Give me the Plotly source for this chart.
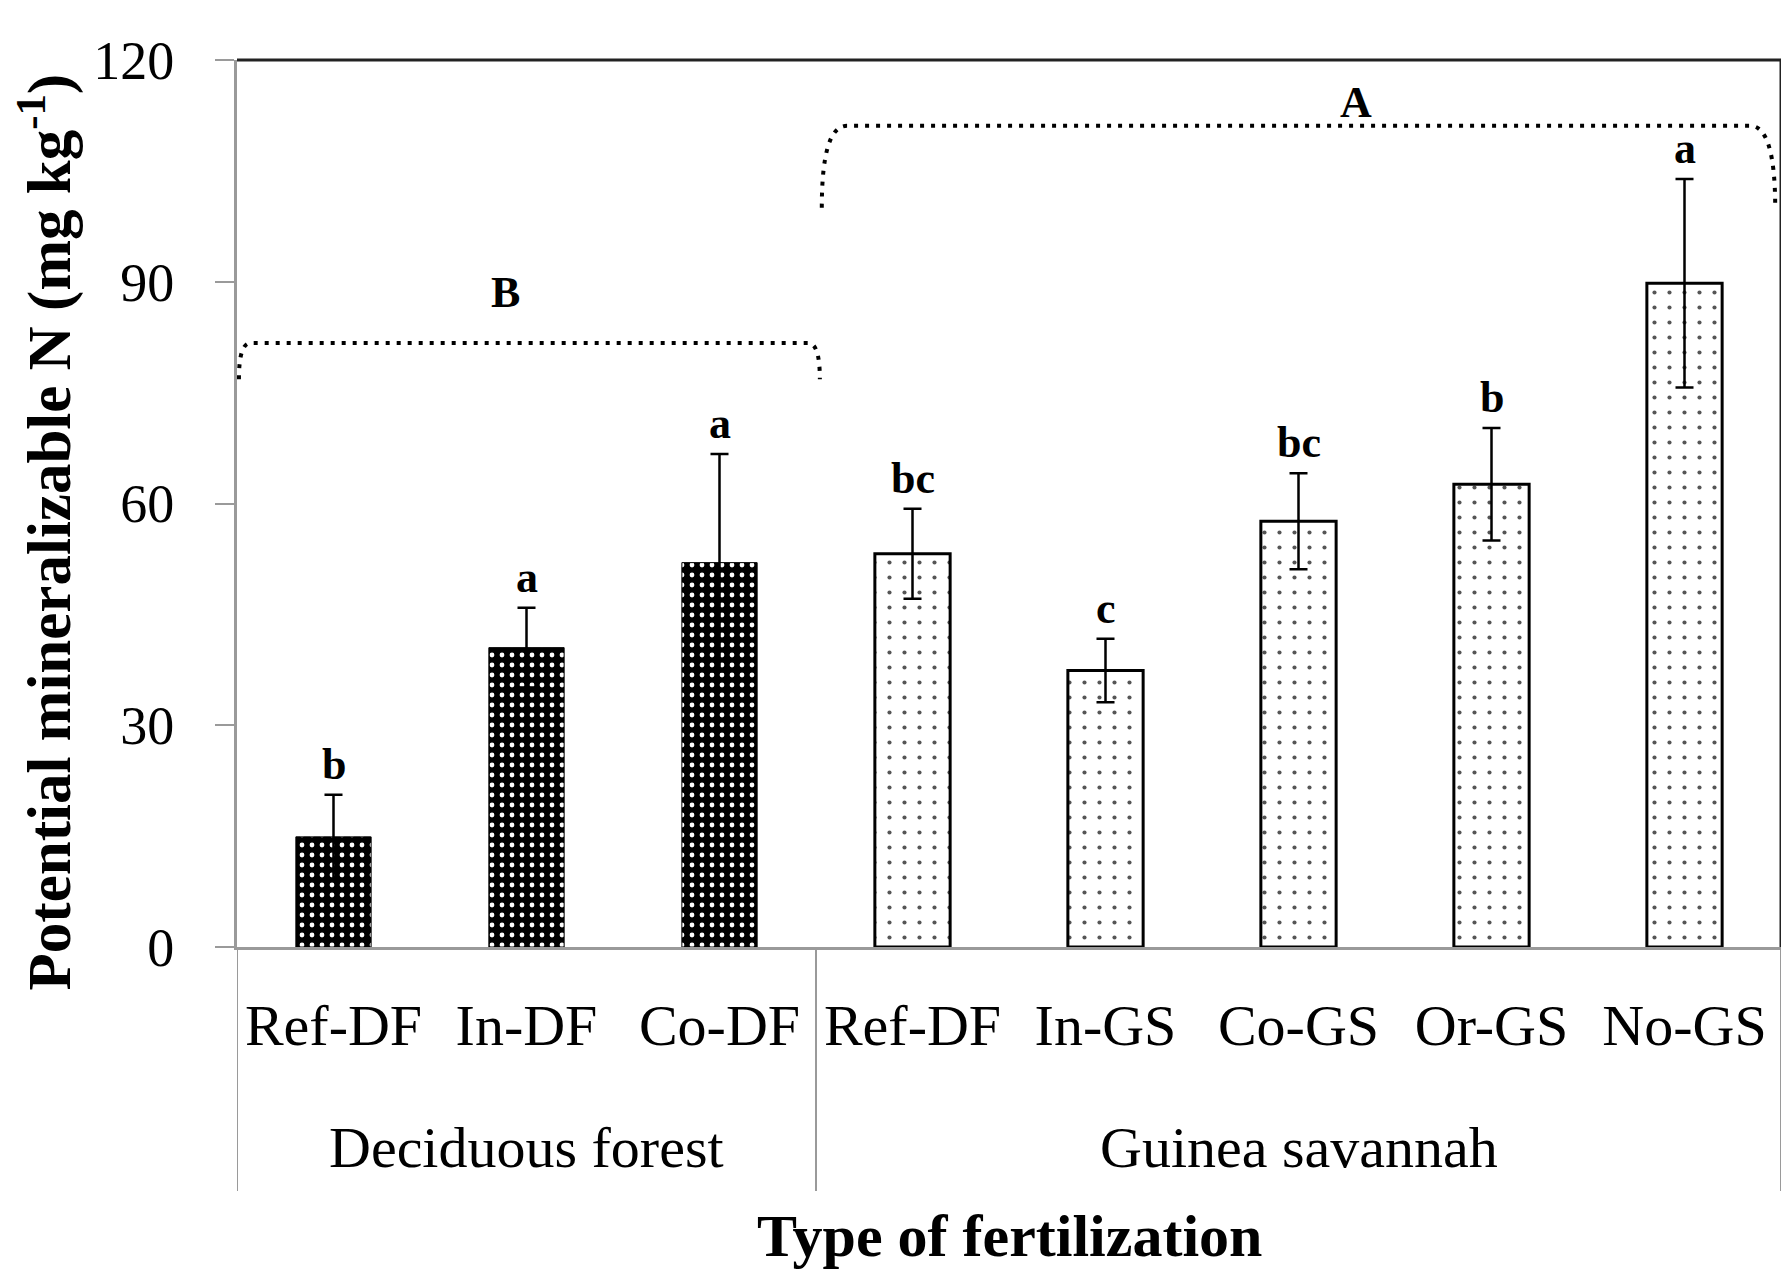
import plotly.graph_objects as go

# data
CATEGORIES = ["Ref-DF", "In-DF", "Co-DF", "Ref-DF", "In-GS", "Co-GS", "Or-GS", "No-GS"]
GROUP_OF = ["Deciduous forest"] * 3 + ["Guinea savannah"] * 5
VALUES = [14.9, 40.5, 52.0, 53.2, 37.4, 57.6, 62.6, 89.8]
ERRORS = [5.7, 5.4, 14.7, 6.1, 4.3, 6.5, 7.6, 14.1]
LETTERS = ["b", "a", "a", "bc", "c", "bc", "b", "a"]
GROUPS = ["Deciduous forest", "Guinea savannah"]
GROUP_LETTERS = ["B", "A"]
Y_TICKS = [0, 30, 60, 90, 120]

FONT = "Liberation Serif"
GRAY = "#9a9a9a"

fig = go.Figure()

styles = {
    "Deciduous forest": dict(color="black", pattern=dict(shape=".", fgcolor="white", bgcolor="black",
                                                          size=10, solidity=0.18, fillmode="replace"),
                             line=dict(color="black", width=1)),
    "Guinea savannah": dict(color="white", pattern=dict(shape=".", fgcolor="#555555", bgcolor="white",
                                                         size=15, solidity=0.06, fillmode="replace"),
                            line=dict(color="black", width=3)),
}

for g in GROUPS:
    idx = [i for i, gg in enumerate(GROUP_OF) if gg == g]
    fig.add_trace(go.Bar(
        x=idx,
        y=[VALUES[i] for i in idx],
        width=0.39,
        marker=styles[g],
        error_y=dict(type="data", array=[ERRORS[i] for i in idx], visible=True,
                     color="black", thickness=2.5, width=9),
        showlegend=False,
    ))

# significance letters above each error bar
for i, (v, e, t) in enumerate(zip(VALUES, ERRORS, LETTERS)):
    fig.add_annotation(x=i, y=v + e, text=f"<b>{t}</b>", showarrow=False,
                       yanchor="bottom", yshift=4,
                       font=dict(family=FONT, size=44, color="black"))


def bracket_path(x0, x1, y_hi, y_lo, dx):
    return (f"M {x0},{y_lo} Q {x0},{y_hi} {x0 + dx},{y_hi} "
            f"L {x1 - dx},{y_hi} Q {x1},{y_hi} {x1},{y_lo}")


# dotted group brackets (B over forest, A over savannah)
brackets = [
    dict(x0=-0.49, x1=2.52, y_hi=81.7, y_lo=76.8, dx=0.06, lx=0.89, ly=88.6),
    dict(x0=2.53, x1=7.47, y_hi=111.1, y_lo=100.0, dx=0.13, lx=5.30, ly=114.3),
]
for b, lab in zip(brackets, GROUP_LETTERS):
    fig.add_shape(type="path", xref="x", yref="y",
                  path=bracket_path(b["x0"], b["x1"], b["y_hi"], b["y_lo"], b["dx"]),
                  line=dict(color="black", width=4, dash="4px,7px"))
    fig.add_annotation(x=b["lx"], y=b["ly"], text=f"<b>{lab}</b>", showarrow=False,
                       font=dict(family=FONT, size=44, color="black"))

# frame: black top/right, grey separators running into the category area
fig.add_shape(type="line", xref="paper", yref="paper", x0=0, x1=1, y0=1, y1=1,
              line=dict(color="#222222", width=3))
fig.add_shape(type="line", xref="paper", yref="paper", x0=1, x1=1, y0=0, y1=1,
              line=dict(color="#222222", width=3))
group_edges = [-0.5]
for gi, g in enumerate(GROUPS):
    idx = [i for i, gg in enumerate(GROUP_OF) if gg == g]
    group_edges.append(idx[-1] + 0.5)
    fig.add_annotation(x=(idx[0] + idx[-1]) / 2, xref="x", y=-0.226, yref="paper",
                       text=g, showarrow=False, yanchor="middle",
                       font=dict(family=FONT, size=58, color="black"))
for xe in group_edges:
    fig.add_shape(type="line", xref="x", yref="paper", x0=xe, x1=xe, y0=0, y1=-0.275,
                  line=dict(color=GRAY, width=2))

fig.add_annotation(x=0.5, xref="paper", y=-0.326, yref="paper", text="<b>Type of fertilization</b>",
                   showarrow=False, yanchor="middle",
                   font=dict(family=FONT, size=60, color="black"))
fig.add_annotation(x=-0.124, xref="paper", y=0.468, yref="paper", textangle=-90,
                   text="<b>Potential mineralizable N (mg kg<sup>-1</sup>)</b>",
                   showarrow=False, xanchor="center", yanchor="middle",
                   font=dict(family=FONT, size=61, color="black"))

fig.update_layout(
    width=1789, height=1278,
    paper_bgcolor="white", plot_bgcolor="white",
    margin=dict(l=229, r=16, t=52, b=339),
    bargap=0.6,
    font=dict(family=FONT, color="black"),
    xaxis=dict(
        range=[-0.5, 7.5], tickvals=list(range(len(CATEGORIES))), ticktext=CATEGORIES,
        showgrid=False, zeroline=False, showline=True, linecolor=GRAY, linewidth=3,
        ticks="", tickfont=dict(family=FONT, size=58, color="black"),
        ticklabelstandoff=25,
    ),
    yaxis=dict(
        range=[0, 120], tickvals=Y_TICKS, showgrid=False, zeroline=False,
        showline=True, linecolor=GRAY, linewidth=3,
        ticks="outside", ticklen=19, tickwidth=2, tickcolor=GRAY,
        tickfont=dict(family=FONT, size=54, color="black"),
        ticklabelstandoff=30,
    ),
)

fig.write_html("out.html")
